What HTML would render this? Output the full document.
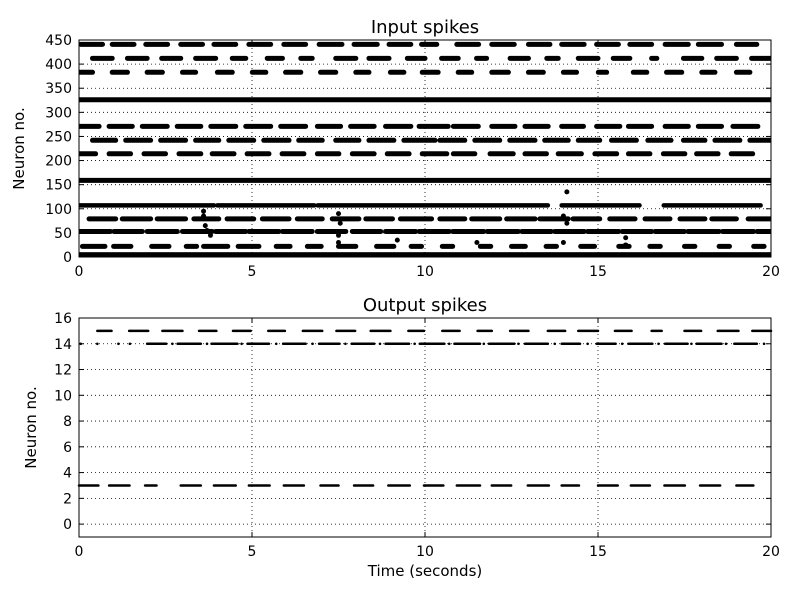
<!DOCTYPE html>
<html><head><meta charset="utf-8"><style>
html,body{margin:0;padding:0;background:#fff;}
svg{display:block;font-family:"DejaVu Sans","Liberation Sans",sans-serif;}
</style></head><body>
<svg id="chart" width="800" height="600" viewBox="0 0 800 600" xmlns="http://www.w3.org/2000/svg">
<rect width="800" height="600" fill="#fff"/>
<g id="topPanel"></g>
<g id="botPanel"></g>
</svg>
<script>
const inputNeurons = [441, 412, 383, 271, 242, 214, 79, 53, 22];
const in441 = [[0.05,0.68],[0.96,1.59],[1.93,2.56],[2.94,3.57],[3.9,4.53],[4.91,5.54],[5.92,6.55],[6.94,7.6],[7.95,8.62],[8.96,9.59],[9.9,10.34],[10.92,11.55],[11.93,12.58],[12.99,13.61],[13.95,14.6],[14.96,15.59],[15.92,16.55],[16.94,17.61],[17.9,18.57],[19.0,19.59]];
const in412 = [[0.39,0.96],[1.4,1.97],[2.39,2.94],[3.37,3.95],[4.43,4.82],[5.44,5.88],[6.41,6.74],[7.42,8.0],[8.38,8.96],[9.49,10.0],[10.48,10.96],[11.49,11.78],[12.46,12.99],[13.52,13.85],[14.43,15.0],[15.44,15.92],[16.55,16.7],[17.47,18.0],[18.43,19.0],[19.44,20]];
const in383 = [[0,0.39],[0.96,1.4],[1.97,2.41],[2.99,3.37],[4.0,4.43],[5.01,5.4],[5.97,6.41],[6.98,7.42],[8.0,8.38],[9.0,9.39],[9.92,10.38],[10.96,11.35],[11.93,12.41],[12.99,13.42],[14.0,14.38],[15.01,15.25],[16.02,16.41],[16.98,17.42],[18.0,18.38],[19.0,19.39]];
const in271 = [[0,0.58],[0.87,1.54],[1.83,2.55],[2.84,3.52],[3.81,4.53],[4.82,5.54],[5.83,6.55],[6.89,7.56],[7.85,8.53],[8.86,9.59],[9.83,10.67],[10.82,11.54],[11.93,12.6],[12.89,13.56],[13.95,14.58],[14.96,15.63],[15.88,16.55],[16.94,17.61],[17.9,18.57],[18.9,19.62]];
const in242 = [[0.39,1.06],[1.35,2.07],[2.36,3.08],[3.37,4.04],[4.33,5.05],[5.34,6.07],[6.35,7.03],[7.42,8.09],[8.38,9.1],[9.39,10.29],[10.43,11.15],[11.44,12.16],[12.45,13.18],[13.46,14.14],[14.43,15.05],[15.39,16.11],[16.44,17.11],[17.47,18.09],[18.38,19.1],[19.39,20]];
const in214 = [[0,0.48],[0.87,1.49],[1.88,2.5],[2.89,3.52],[3.85,4.48],[4.86,5.49],[5.87,6.5],[6.89,7.51],[7.9,8.53],[8.91,9.54],[9.92,10.63],[10.82,11.44],[11.88,12.55],[12.89,13.51],[13.85,14.52],[14.91,15.54],[15.88,16.5],[16.89,17.51],[17.85,18.47],[18.85,19.47]];
const in79 = [[0.29,1.06],[1.25,2.07],[2.26,3.08],[3.32,4.04],[4.28,5.05],[5.3,6.07],[6.31,7.03],[7.32,8.09],[8.29,9.06],[9.29,10.19],[10.43,11.15],[11.35,12.16],[12.36,13.18],[13.32,14.14],[14.28,15.05],[15.34,16.07],[16.36,17.08],[17.37,18.09],[18.29,19.0],[19.34,20]];
const in53 = [[0,0.91],[1.01,1.83],[1.97,2.84],[2.99,3.85],[3.95,4.82],[4.91,5.78],[5.88,6.74],[6.89,7.71],[7.9,8.72],[8.86,9.73],[9.83,10.7],[10.8,11.7],[11.8,12.7],[12.8,13.65],[13.75,14.6],[14.7,15.6],[15.7,16.55],[16.65,17.5],[17.6,18.5],[18.6,19.5],[19.6,20]];
const in22 = [[0.1,0.75],[1.0,1.5],[2.1,2.6],[3.1,3.4],[3.6,4.3],[4.6,5.2],[5.7,6.1],[6.6,7.0],[7.5,8.0],[8.6,9.1],[9.6,9.9],[10.5,10.8],[11.6,11.9],[12.5,12.9],[13.5,13.8],[14.5,14.9],[15.6,15.9],[16.5,16.8],[17.5,17.8],[18.5,18.8],[19.5,19.8]];
const inputBursts = [in441, in412, in383, in271, in242, in214, in79, in53, in22];
const solidNeurons = [326, 159];
const in107 = [[0,3.9],[4.0,6.8],[6.9,13.55],[13.95,16.2],[16.9,19.7]];
const scatterT = [3.6,3.6,3.65,3.7,3.8,7.5,7.55,7.5,7.5,14.1,14.0,14.1,14.0,15.8,15.8,9.2,11.5];
const scatterN = [95,85,65,55,45,90,70,45,30,135,85,70,30,40,25,35,30];
const outNeurons = [15, 14, 3];
const out15 = [[0.53,0.94],[1.45,2.0],[2.41,2.99],[3.47,3.97],[4.45,4.96],[5.47,5.95],[6.47,7.03],[7.44,7.98],[8.43,9.0],[9.52,9.97],[10.5,11.0],[11.52,11.93],[12.46,12.99],[13.55,14.05],[14.43,15.0],[15.49,15.97],[16.55,16.84],[17.5,17.98],[18.46,19.06],[19.46,20]];
const out14 = [[1.97,2.52],[2.85,3.52],[3.83,4.58],[4.87,5.49],[5.9,6.55],[6.94,7.53],[7.88,8.53],[8.86,9.54],[9.85,10.56],[10.85,11.59],[11.85,12.58],[12.89,13.55],[13.95,14.48],[14.96,15.51],[15.88,16.57],[16.94,17.59],[17.85,18.57],[18.94,19.59]];
const out3 = [[0,0.56],[0.87,1.46],[1.91,2.24],[2.94,3.52],[3.9,4.53],[4.91,5.51],[5.92,6.5],[6.98,7.5],[7.95,8.5],[8.94,9.56],[9.97,10.53],[10.92,11.59],[11.93,12.49],[12.97,13.58],[13.95,14.45],[15.0,15.57],[15.95,16.5],[16.92,17.51],[17.95,18.53],[19.0,19.49]];
const outBursts = [out15, out14, out3];
const out14Sparse = [0.05,0.53,1.14,1.47,2.7,3.7,4.7,5.7,6.75,7.7,8.7,9.7,10.7,11.7,12.7,13.75,14.7,15.7,16.75,17.7,18.7,19.8];
const xTicks = [0,5,10,15,20];
const topYTicks = [0,50,100,150,200,250,300,350,400,450];
const botYTicks = [0,2,4,6,8,10,12,14,16];

const NS='http://www.w3.org/2000/svg';
const X0=79,X1=771;
function xs(t){return X0+(t/20)*(X1-X0);}
function yTopMap(n){return 257-(n/450)*217;}
function yBotMap(v){return 537-((v+1)/17)*219;}
function mk(tag,attrs,parent){const e=document.createElementNS(NS,tag);for(const k in attrs)e.setAttribute(k,attrs[k]);parent.appendChild(e);return e;}

function axes(g,yT,yB,ymap,yt,title,ylabel,xlabel){
  xTicks.forEach(t=>{if(t>0&&t<20){const l=mk('line',{x1:xs(t),x2:xs(t),y1:yT,y2:yB,stroke:'#000','stroke-width':0.8,'stroke-dasharray':'1,3'},g);
    
    }});
  yt.forEach(v=>{const y=ymap(v);if(y>yT+1&&y<yB-1){const l=mk('line',{x1:X0,x2:X1,y1:y,y2:y,stroke:'#000','stroke-width':0.8,'stroke-dasharray':'1,3'},g);
    
    }});
  yt.forEach(v=>{const y=ymap(v);const tx=mk('text',{x:72,y:y+5,'text-anchor':'end','font-size':14,fill:'#000'},g);tx.textContent=v;
    
    
    mk('line',{x1:X0,x2:X0+5,y1:y,y2:y,stroke:'#000'},g);mk('line',{x1:X1,x2:X1-5,y1:y,y2:y,stroke:'#000'},g);});
  xTicks.forEach(t=>{const tx=mk('text',{x:xs(t),y:yB+19,'text-anchor':'middle','font-size':14,fill:'#000'},g);tx.textContent=t;
    
    
    mk('line',{x1:xs(t),x2:xs(t),y1:yB,y2:yB-5,stroke:'#000'},g);mk('line',{x1:xs(t),x2:xs(t),y1:yT,y2:yT+5,stroke:'#000'},g);});
  const ti=mk('text',{x:(X0+X1)/2,y:yT-7,'text-anchor':'middle','font-size':18,fill:'#000'},g);ti.textContent=title;
  
  
  const cy=(yT+yB)/2;
  const yl=mk('text',{x:0,y:0,transform:`translate(${ylabel[1]},${cy}) rotate(-90)`,'text-anchor':'middle','font-size':15,fill:'#000'},g);yl.textContent=ylabel[0];
  
  
  if(xlabel){const xl=mk('text',{x:(X0+X1)/2,y:yB+39,'text-anchor':'middle','font-size':15,fill:'#000'},g);xl.textContent=xlabel;
    
    }
}
function frame(g,yT,yB){const r=mk('rect',{x:X0,y:yT,width:X1-X0,height:yB-yT,fill:'none',stroke:'#000','stroke-width':1},g);
  
  }
function burst(g,a,b,y,w,name){const l=mk('line',{x1:xs(a),x2:xs(b),y1:y,y2:y,stroke:'#000','stroke-width':w,'stroke-linecap':'round'},g);
  
  }

const topG=document.getElementById('topPanel'), botG=document.getElementById('botPanel');
axes(topG,40,257,yTopMap,topYTicks,'Input spikes',['Neuron no.',24],null);
axes(botG,318,537,yBotMap,botYTicks,'Output spikes',['Neuron no.',36],'Time (seconds)');

const clip=mk('clipPath',{id:'c1'},topG);mk('rect',{x:X0,y:40,width:X1-X0,height:217},clip);
const tg=mk('g',{'clip-path':'url(#c1)'},topG);
inputNeurons.forEach((n,i)=>inputBursts[i].forEach(p=>burst(tg,p[0],p[1],yTopMap(n),5,'input-spike-burst')));
solidNeurons.forEach(n=>burst(tg,0,20,yTopMap(n),5,'input-spike-train'));
in107.forEach(p=>burst(tg,p[0],p[1],yTopMap(107),4.5,'input-spike-burst'));
const band=mk('rect',{x:X0,y:yTopMap(10),width:X1-X0,height:yTopMap(0)-yTopMap(10),fill:'#000'},tg);


scatterT.forEach((t,i)=>{const c=mk('circle',{cx:xs(t),cy:yTopMap(scatterN[i]),r:2.5,fill:'#000'},tg);
  
  });

outNeurons.forEach((n,i)=>outBursts[i].forEach(p=>burst(botG,p[0],p[1],yBotMap(n),2.5,'output-spike-burst')));
out14Sparse.forEach(t=>{const c=mk('circle',{cx:xs(t),cy:yBotMap(14),r:1.3,fill:'#000'},botG);
  
  });

frame(topG,40,257);frame(botG,318,537);
</script>
</body></html>
